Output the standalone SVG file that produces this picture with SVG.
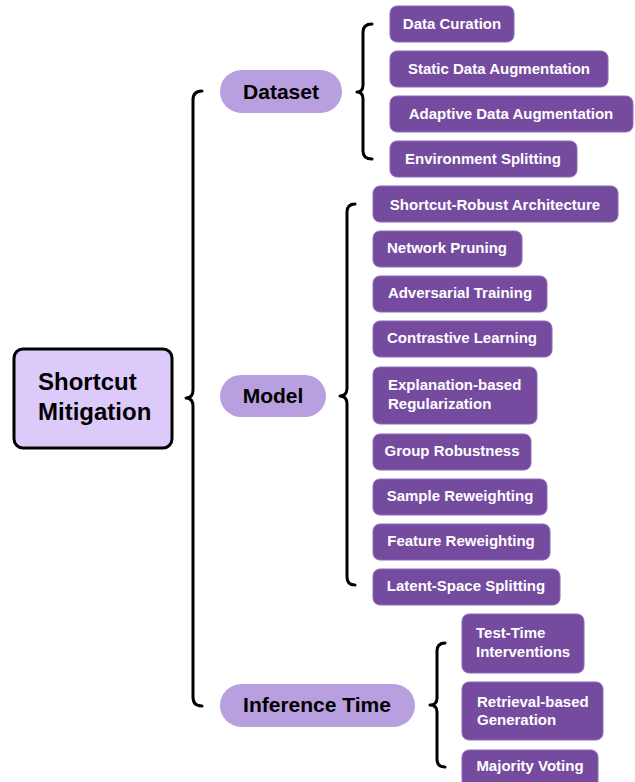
<svg xmlns="http://www.w3.org/2000/svg" width="635" height="782" viewBox="0 0 635 782">
<style>
.item{fill:#754b9f;stroke:#8e6bb8;stroke-width:1}
.it{font-family:"Liberation Sans",Arial,sans-serif;font-weight:bold;font-size:15px;fill:#ffffff}
.pill{fill:#b89fdf}
.pt{font-family:"Liberation Sans",Arial,sans-serif;font-weight:bold;font-size:21px;fill:#000000;text-anchor:middle}
.br{fill:none;stroke:#000000;stroke-width:3;stroke-linecap:round;stroke-linejoin:round}
</style>
<rect width="635" height="782" fill="#ffffff"/>
<g id="connectors">
<path class="br" d="M202,91 Q193,91 193,100 L193,390 Q193,398 186,398 Q193,398 193,406 L193,697 Q193,706 202,706"/>
<path class="br" d="M372,24 Q363,24 363,32 L363,85 Q363,92 357,92 Q363,92 363,99 L363,151 Q363,159 372,159"/>
<path class="br" d="M355,204 Q347,204 347,212 L347,388 Q347,396 340,396 Q347,396 347,404 L347,577 Q347,585 355,585"/>
<path class="br" d="M445,643 Q437,643 437,651 L437,698 Q437,705 430,705 Q437,705 437,712 L437,759 Q437,767 445,767"/>
</g>
<g id="root">
<rect x="14" y="349" width="158" height="99" rx="9" fill="#dccafb" stroke="#000000" stroke-width="3"/>
<text font-family="Liberation Sans,Arial,sans-serif" font-weight="bold" font-size="24" fill="#000000"><tspan x="38" y="390">Shortcut</tspan><tspan x="38" y="420">Mitigation</tspan></text>
</g>
<g id="dataset"><rect class="pill" x="220" y="70" width="122" height="43" rx="21.5"/><text class="pt" x="281" y="99">Dataset</text></g>
<g id="model"><rect class="pill" x="220" y="375" width="106" height="42" rx="21"/><text class="pt" x="273" y="403">Model</text></g>
<g id="inference"><rect class="pill" x="220" y="684" width="195" height="43" rx="21.5"/><text class="pt" x="317" y="712">Inference Time</text></g>
<g id="data-curation"><rect class="item" x="390" y="6" width="124" height="36" rx="7"/><text class="it" x="452" y="29" text-anchor="middle">Data Curation</text></g>
<g id="static-aug"><rect class="item" x="390" y="51" width="218" height="36" rx="7"/><text class="it" x="499" y="74" text-anchor="middle">Static Data Augmentation</text></g>
<g id="adaptive-aug"><rect class="item" x="390" y="96" width="243" height="36" rx="7"/><text class="it" x="511" y="119" text-anchor="middle">Adaptive Data Augmentation</text></g>
<g id="env-split"><rect class="item" x="390" y="141" width="187" height="36" rx="7"/><text class="it" x="483" y="164" text-anchor="middle">Environment Splitting</text></g>
<g id="sr-arch"><rect class="item" x="373" y="186" width="245" height="36" rx="7"/><text class="it" x="495" y="210" text-anchor="middle">Shortcut-Robust Architecture</text></g>
<g id="net-prune"><rect class="item" x="373" y="231" width="149" height="36" rx="7"/><text class="it" x="447" y="253" text-anchor="middle">Network Pruning</text></g>
<g id="adv-train"><rect class="item" x="373" y="276" width="174" height="36" rx="7"/><text class="it" x="460" y="298" text-anchor="middle">Adversarial Training</text></g>
<g id="contrastive"><rect class="item" x="373" y="321" width="179" height="36" rx="7"/><text class="it" x="462" y="343" text-anchor="middle">Contrastive Learning</text></g>
<g id="expl-reg"><rect class="item" x="373" y="367" width="164" height="57" rx="7"/><text class="it"><tspan x="388" y="390">Explanation-based</tspan><tspan x="388" y="409">Regularization</tspan></text></g>
<g id="group-rob"><rect class="item" x="373" y="434" width="158" height="36" rx="7"/><text class="it" x="452" y="456" text-anchor="middle">Group Robustness</text></g>
<g id="sample-rw"><rect class="item" x="373" y="479" width="174" height="36" rx="7"/><text class="it" x="460" y="501" text-anchor="middle">Sample Reweighting</text></g>
<g id="feature-rw"><rect class="item" x="373" y="524" width="177" height="36" rx="7"/><text class="it" x="461" y="546" text-anchor="middle">Feature Reweighting</text></g>
<g id="latent-split"><rect class="item" x="373" y="569" width="187" height="36" rx="7"/><text class="it" x="466" y="591" text-anchor="middle">Latent-Space Splitting</text></g>
<g id="tti"><rect class="item" x="462" y="614" width="122" height="59" rx="7"/><text class="it"><tspan x="476" y="638">Test-Time</tspan><tspan x="476" y="657">Interventions</tspan></text></g>
<g id="rag"><rect class="item" x="462" y="682" width="141" height="58" rx="7"/><text class="it"><tspan x="477" y="707">Retrieval-based</tspan><tspan x="477" y="725">Generation</tspan></text></g>
<g id="majority"><rect class="item" x="462" y="750" width="136" height="40" rx="7"/><text class="it" x="530" y="771" text-anchor="middle">Majority Voting</text></g>
</svg>
